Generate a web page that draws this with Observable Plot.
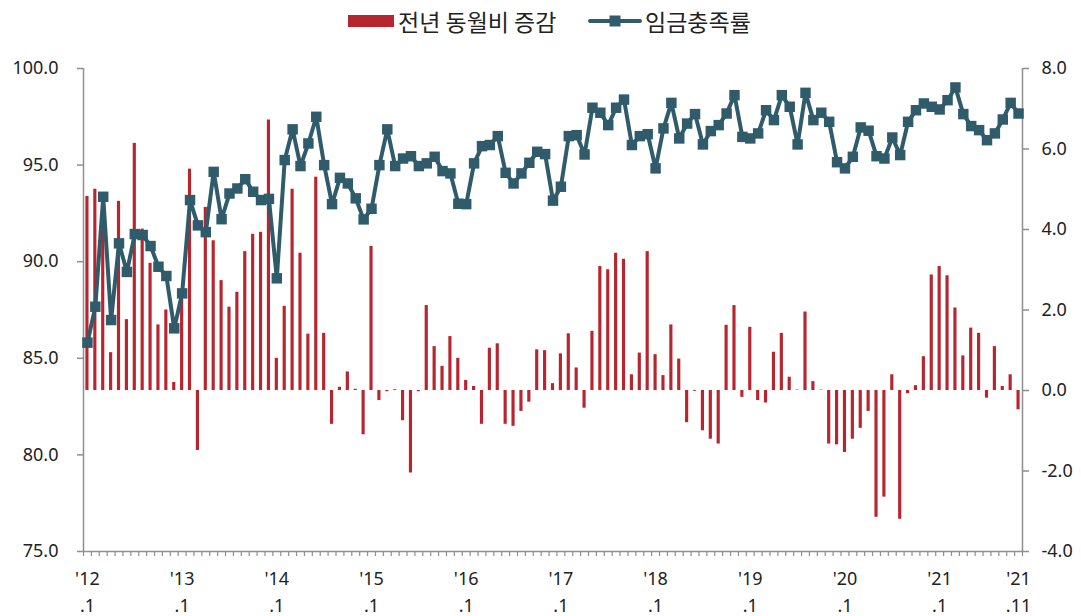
<!DOCTYPE html>
<html>
<head>
<meta charset="utf-8">
<script src="https://cdn.jsdelivr.net/npm/d3@7"></script>
<script src="https://cdn.jsdelivr.net/npm/@observablehq/plot@0.6"></script>
<style>
  html, body { margin: 0; padding: 0; background: #fff; }
  #wrap { width: 1081px; height: 616px; position: relative; overflow: hidden; }
  #legend { position: relative; width: 1081px; height: 45px; font-family: "Noto Sans CJK KR", "Noto Sans", sans-serif; font-size: 23px; color: #222; }
  #legend .sw1 { position: absolute; left: 348px; top: 15px; width: 46px; height: 12px; background: #b7252f; }
  #legend .t1 { position: absolute; left: 398px; top: 6px; line-height: 30px; white-space: nowrap; }
  #legend .sw2 { position: absolute; left: 588px; top: 12px; }
  #legend .t2 { position: absolute; left: 645px; top: 6px; line-height: 30px; white-space: nowrap; }
</style>
</head>
<body>
<div id="wrap">
  <div id="legend">
    <div class="sw1"></div><div class="t1">전년 동월비 증감</div>
    <svg class="sw2" width="54" height="18"><line x1="2" y1="9" x2="52" y2="9" stroke="#2f5b6b" stroke-width="4" stroke-linecap="round"/><rect x="21.5" y="3.5" width="11" height="11" fill="#2f5b6b"/></svg>
    <div class="t2">임금충족률</div>
  </div>
  <div id="chart"></div>
</div>
<script>
// Series: 2012.1 – 2021.11 (monthly)
const seriesNames = ["전년 동월비 증감", "임금충족률"];

// 임금충족률 (left axis, %)
const wageRate = [
  85.81, 87.67, 93.36, 86.98, 90.95, 89.47, 91.43, 91.38, 90.81, 89.74, 89.26, 86.55,
  88.36, 93.19, 91.88, 91.53, 94.65, 92.20, 93.53, 93.79, 94.27, 93.62, 93.19, 93.25,
  89.14, 95.26, 96.85, 94.95, 96.12, 97.50, 95.00, 92.98, 94.34, 94.05, 93.28, 92.19,
  92.74, 95.00, 96.85, 94.95, 95.34, 95.46, 94.95, 95.09, 95.43, 94.69, 94.57, 93.00,
  92.98, 95.09, 95.98, 96.04, 96.50, 94.60, 94.05, 94.57, 95.12, 95.69, 95.57, 93.16,
  93.88, 96.50, 96.55, 95.55, 97.97, 97.71, 97.07, 97.97, 98.39, 96.04, 96.50, 96.60,
  94.83, 96.90, 98.22, 96.38, 97.15, 97.64, 96.07, 96.76, 97.07, 97.67, 98.62, 96.46,
  96.38, 96.64, 97.84, 97.33, 98.62, 98.02, 96.07, 98.74, 97.33, 97.71, 97.24, 95.15,
  94.83, 95.43, 96.95, 96.78, 95.46, 95.34, 96.43, 95.52, 97.24, 97.84, 98.19, 98.02,
  97.88, 98.36, 99.02, 97.64, 97.02, 96.81, 96.29, 96.64, 97.36, 98.22, 97.67
];

// 전년 동월비 증감 (right axis, %p)
const yoyChange = [
  4.82, 5.00, 4.60, 0.94, 4.70, 1.76, 6.14, 4.01, 3.16, 1.63, 2.00, 0.20,
  2.40, 5.50, -1.49, 4.55, 3.72, 2.73, 2.07, 2.44, 3.45, 3.88, 3.93, 6.72,
  0.80, 2.09, 5.00, 3.41, 1.40, 5.30, 1.42, -0.84, 0.08, 0.46, 0.03, -1.10,
  3.58, -0.25, -0.03, 0.02, -0.75, -2.05, -0.03, 2.11, 1.09, 0.60, 1.34, 0.80,
  0.25, 0.10, -0.84, 1.05, 1.16, -0.84, -0.89, -0.52, -0.29, 1.01, 0.99, 0.17,
  0.91, 1.41, 0.56, -0.44, 1.47, 3.08, 3.00, 3.41, 3.26, 0.39, 0.93, 3.45,
  0.89, 0.37, 1.63, 0.78, -0.80, -0.02, -1.00, -1.21, -1.33, 1.62, 2.11, -0.17,
  1.57, -0.25, -0.31, 0.95, 1.42, 0.33, 0.01, 1.95, 0.22, 0.01, -1.33, -1.35,
  -1.54, -1.21, -0.94, -0.52, -3.15, -2.65, 0.39, -3.20, -0.08, 0.12, 0.84, 2.87,
  3.08, 2.85, 2.05, 0.86, 1.55, 1.42, -0.19, 1.09, 0.10, 0.39, -0.48
];

// x tick labels (month index → label)
const xTickIndex = [0, 12, 24, 36, 48, 60, 72, 84, 96, 108, 118];
const xTickLabels = ["'12\n.1", "'13\n.1", "'14\n.1", "'15\n.1", "'16\n.1", "'17\n.1", "'18\n.1", "'19\n.1", "'20\n.1", "'21\n.1", "'21\n.11"];

const leftTicks = [75, 80, 85, 90, 95, 100];
const rightTicks = [-4, -2, 0, 2, 4, 6, 8];

const leftDomain = [75, 100];
const rightDomain = [-4, 8];
const toLeft = v => leftDomain[0] + (v - rightDomain[0]) * (leftDomain[1] - leftDomain[0]) / (rightDomain[1] - rightDomain[0]);
const toRight = l => rightDomain[0] + (l - leftDomain[0]) * (rightDomain[1] - rightDomain[0]) / (leftDomain[1] - leftDomain[0]);

const n = wageRate.length;
const data = wageRate.map((w, i) => ({i, w, c: yoyChange[i]}));
const base = toLeft(0);

const axisGray = "#8f8f8f";
const lineColor = "#2f5b6b";
const barColor = "#b7252f";

const chart = Plot.plot({
  width: 1081,
  height: 571,
  marginTop: 23,
  marginBottom: 65,
  marginLeft: 83,
  marginRight: 59,
  x: {type: "linear", domain: [0, n], axis: null},
  y: {domain: leftDomain, axis: null},
  style: {fontFamily: "'Noto Sans', sans-serif", fontSize: "18px", color: "#222", background: "#fff"},
  marks: [
    Plot.rectY(data, {x1: d => d.i + 0.3, x2: d => d.i + 0.7, y1: () => base, y2: d => toLeft(d.c), fill: barColor}),
    Plot.ruleX([0], {stroke: axisGray, strokeWidth: 1.5}),
    Plot.ruleX([n], {stroke: axisGray, strokeWidth: 1.5}),
    Plot.ruleY([leftDomain[0]], {stroke: axisGray, strokeWidth: 1.5}),
    Plot.axisY({ticks: leftTicks, tickFormat: d => d.toFixed(1), tickSize: 6, tickPadding: 19, stroke: axisGray, fill: "#222", strokeWidth: 1.5, label: null}),
    Plot.axisY({anchor: "right", ticks: rightTicks.map(toLeft), tickFormat: d => (Math.round(toRight(d) * 10) / 10 + 0).toFixed(1), tickSize: 6, tickPadding: 13, stroke: axisGray, fill: "#222", strokeWidth: 1.5, label: null}),
    Plot.axisX({ticks: d3.range(0, n + 1), tickFormat: () => "", tickSize: 5, stroke: axisGray, strokeWidth: 1.2, label: null}),
    Plot.axisX({ticks: xTickIndex.map(i => i + 0.5), tickFormat: d => xTickLabels[xTickIndex.indexOf(d - 0.5)], tickSize: 0, tickPadding: 14, lineHeight: 1.5, fill: "#222", label: null}),
    Plot.line(data, {x: d => d.i + 0.5, y: "w", stroke: lineColor, strokeWidth: 4, strokeLinejoin: "round"}),
    Plot.dot(data, {x: d => d.i + 0.5, y: "w", symbol: "square", r: 5.9, fill: lineColor, stroke: "none"})
  ]
});
document.getElementById("chart").appendChild(chart);
</script>
</body>
</html>
